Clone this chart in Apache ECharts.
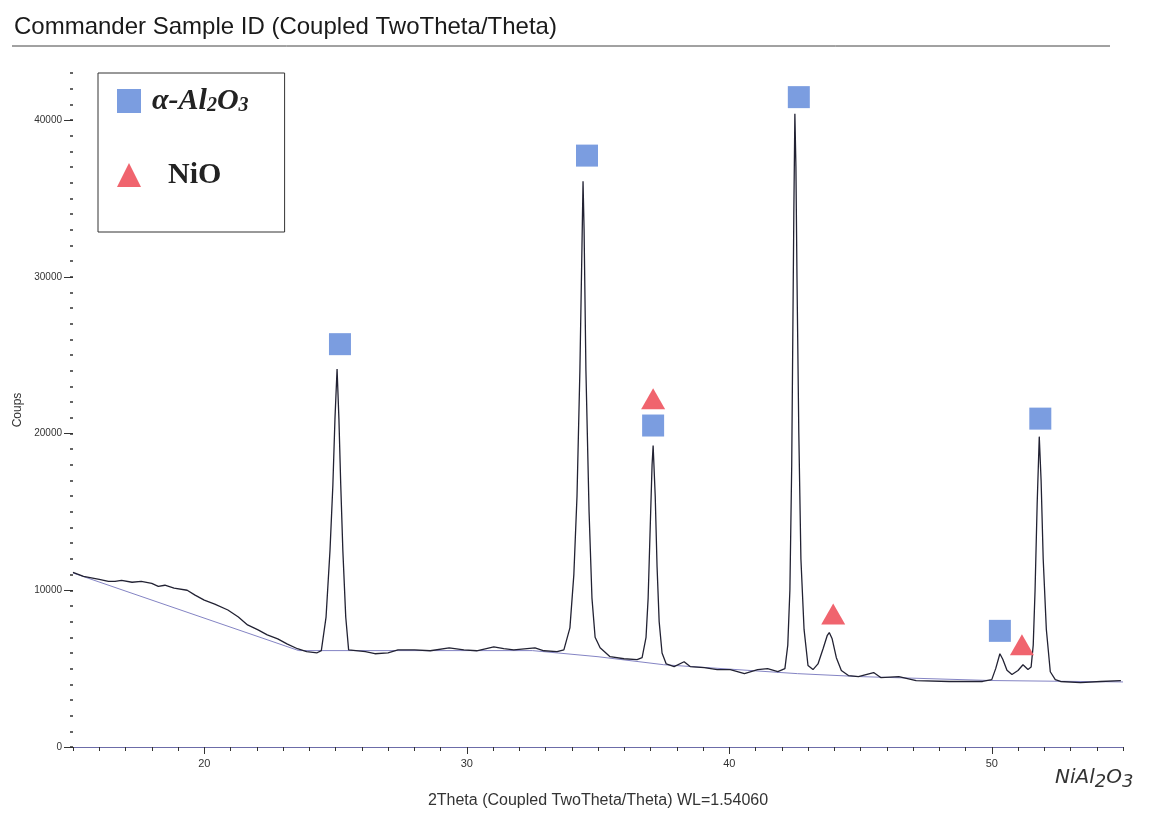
<!DOCTYPE html>
<html>
<head>
<meta charset="utf-8">
<script src="https://cdn.jsdelivr.net/npm/echarts@6/dist/echarts.min.js"></script>
<style>
  html, body { margin: 0; padding: 0; background: #fff; }
  #chart { width: 1158px; height: 814px; }
</style>
</head>
<body>
<div id="chart"></div>
<script>
// diffractogram (2theta, counts)
var twoTheta = [15.0, 15.4, 16.0, 16.35, 16.6, 16.85, 17.25, 17.6, 18.0, 18.25, 18.5, 18.85, 19.35, 19.65,
  20.0, 20.4, 20.9, 21.3, 21.65, 22.05, 22.4, 22.8, 23.15, 23.55, 23.9, 24.3,
  24.46, 24.64, 24.79, 24.9, 24.98, 25.06, 25.13, 25.2, 25.28, 25.39, 25.5,
  26.14, 26.5, 27.0, 27.38, 28.01, 28.61, 29.33, 29.89, 30.38, 31.03, 31.41, 31.79, 32.6, 32.94, 33.44,
  33.7, 33.93, 34.08, 34.2, 34.31, 34.39, 34.43, 34.47, 34.54, 34.66, 34.77, 34.89,
  35.08, 35.46, 35.99, 36.49,
  36.68, 36.83, 36.91, 36.98, 37.06, 37.1, 37.18, 37.25, 37.33, 37.44, 37.6,
  37.9, 38.28, 38.51, 39.05, 39.54, 40.04, 40.58, 41.08, 41.46, 41.85, 42.12,
  42.23, 42.31, 42.38, 42.42, 42.46, 42.5, 42.54, 42.58, 42.65, 42.73, 42.85, 43.0, 43.19,
  43.38, 43.58, 43.73, 43.81, 43.92, 44.08, 44.27, 44.54, 44.92, 45.5, 45.77, 46.46, 47.12, 48.38, 49.65,
  50.0, 50.15, 50.31, 50.42, 50.58, 50.77, 51.0, 51.19, 51.38, 51.5,
  51.58, 51.65, 51.73, 51.81, 51.88, 51.96, 52.08, 52.23, 52.42, 52.62, 53.38, 54.15, 54.92];
var counts = [11140, 10890, 10700, 10570, 10570, 10630, 10510, 10570, 10440, 10250, 10320, 10130, 10000, 9690,
  9370, 9120, 8740, 8290, 7790, 7470, 7150, 6900, 6580, 6270, 6080, 6010,
  6150, 8290, 12530, 16710, 20950, 24120, 20950, 16710, 12530, 8290, 6200,
  6080, 5950, 6010, 6200, 6200, 6140, 6330, 6200, 6140, 6390, 6270, 6200, 6330, 6140, 6080,
  6200, 7600, 11000, 16000, 24000, 32000, 36100, 33000, 24000, 15000, 9500, 7000,
  6330, 5760, 5630, 5570,
  5700, 7000, 9500, 13500, 18000, 19240, 16000, 11500, 8000, 6000, 5300,
  5130, 5440, 5130, 5060, 4940, 4940, 4680, 4940, 5000, 4810, 5000,
  6500, 10000, 18000, 26000, 34000, 40400, 37000, 30000, 20000, 12000, 7500, 5200, 4940,
  5300, 6300, 7100, 7300, 6900, 5700, 4880, 4560, 4490, 4750, 4430, 4490, 4240, 4180, 4180,
  4300, 5000, 5950, 5600, 4900, 4620, 4880, 5250, 4950, 5100,
  6500, 10000, 15500, 19800, 17000, 12000, 7500, 4800, 4300, 4180, 4110, 4180, 4240];

// fitted background line
var baseTheta = [15.0, 23.6, 32.5, 35.0, 37.5, 42.6, 45.0, 50.0, 55.0];
var baseCounts = [11100, 6150, 6150, 5760, 5250, 4680, 4490, 4240, 4150];

// phase markers
var aluminaTheta = [25.17, 34.58, 37.1, 42.65, 50.31, 51.85];
var aluminaMark = [25700, 37730, 20510, 41460, 7410, 20950];
var nioTheta = [37.1, 43.96, 51.15];
var nioMark = [22220, 8480, 6520];

// axis ticks
var xLabels = [20, 30, 40, 50];
var yLabels = [0, 10000, 20000, 30000, 40000];

function zip(a, b) {
  var out = [];
  for (var i = 0; i < a.length; i++) out.push([a[i], b[i]]);
  return out;
}
var xMinor = [], yMinor = [];
for (var t = 15; t <= 55; t++) xMinor.push(t);
for (var c = 0; c <= 43000; c += 1000) yMinor.push(c);

var sans = 'Liberation Sans';
var serif = 'Liberation Serif';
var chart = echarts.init(document.getElementById('chart'));

var option = {
  animation: false,
  backgroundColor: '#fff',
  title: {
    text: 'Commander Sample ID (Coupled TwoTheta/Theta)',
    left: 9, top: 10,
    textStyle: { fontFamily: sans, fontSize: 24, fontWeight: 'normal', color: '#1a1a1a' }
  },
  graphic: [
    { type: 'line', shape: { x1: 12, y1: 46, x2: 1110, y2: 46 }, style: { stroke: '#444', lineWidth: 1 } },
    {
      type: 'text', left: 1055, top: 768,
      style: {
        text: '{m|NiAl}{s|2}{m|O}{s|3}',
        rich: {
          m: { fontFamily: 'DejaVu Sans', fontSize: 20, fontStyle: 'italic', fill: '#333', lineHeight: 26 },
          s: { fontFamily: 'DejaVu Sans', fontSize: 18, fontStyle: 'italic', fill: '#333', verticalAlign: 'bottom', lineHeight: 12 }
        }
      }
    }
  ],
  legend: {
    orient: 'vertical',
    left: 98, top: 73,
    padding: [13, 36, 42, 19],
    itemGap: 44,
    itemWidth: 24, itemHeight: 24,
    borderColor: '#333', borderWidth: 1,
    data: ['α-Al2O3', 'NiO'],
    formatter: function (name) {
      return name === 'NiO' ? '{n|NiO}' : '{f|α-Al}{s|2}{a|O}{s|3}';
    },
    textStyle: {
      rich: {
        f: { fontFamily: serif, fontStyle: 'italic', fontWeight: 'bold', fontSize: 30, color: '#222', lineHeight: 30, padding: [0, 0, 0, 6] },
        a: { fontFamily: serif, fontStyle: 'italic', fontWeight: 'bold', fontSize: 30, color: '#222', lineHeight: 30 },
        s: { fontFamily: serif, fontStyle: 'italic', fontWeight: 'bold', fontSize: 20, color: '#222', lineHeight: 14, verticalAlign: 'bottom' },
        n: { fontFamily: serif, fontWeight: 'bold', fontSize: 30, color: '#222', lineHeight: 30, padding: [0, 0, 0, 22] }
      }
    }
  },
  grid: { left: 73, right: 35, top: 73, bottom: 62 },
  xAxis: [
    {
      type: 'value', min: 15, max: 55,
      name: '2Theta (Coupled TwoTheta/Theta) WL=1.54060',
      nameLocation: 'middle', nameGap: 46,
      nameTextStyle: { fontFamily: sans, fontSize: 16, color: '#333' },
      axisLine: { show: true, lineStyle: { color: '#6c6ca8', width: 1 } },
      axisTick: { show: true, customValues: xLabels, length: 7, lineStyle: { color: '#333' } },
      axisLabel: { customValues: xLabels, fontFamily: sans, fontSize: 11, color: '#333', margin: 11 },
      splitLine: { show: false }
    },
    {
      type: 'value', min: 15, max: 55, position: 'bottom',
      axisLine: { show: false },
      axisTick: { show: true, customValues: xMinor, length: 4, lineStyle: { color: '#333' } },
      axisLabel: { show: false },
      splitLine: { show: false }
    }
  ],
  yAxis: [
    {
      type: 'value', min: 0, max: 43000,
      name: 'Coups',
      nameLocation: 'middle', nameGap: 49,
      nameTextStyle: { fontFamily: sans, fontSize: 12, color: '#333' },
      axisLine: { show: false },
      axisTick: { show: true, customValues: yLabels, length: 9, lineStyle: { color: '#333' } },
      axisLabel: {
        customValues: yLabels, fontFamily: sans, fontSize: 10, color: '#333', margin: 11,
        formatter: function (v) { return String(v); }
      },
      splitLine: { show: false }
    },
    {
      type: 'value', min: 0, max: 43000, position: 'left',
      axisLine: { show: false },
      axisTick: { show: true, customValues: yMinor, length: 3, lineStyle: { color: '#333', width: 1.5 } },
      axisLabel: { show: false },
      splitLine: { show: false }
    }
  ],
  series: [
    {
      name: 'background', type: 'line', data: zip(baseTheta, baseCounts),
      showSymbol: false, lineStyle: { color: '#8484c4', width: 1 }, z: 1
    },
    {
      name: 'pattern', type: 'line', data: zip(twoTheta, counts),
      showSymbol: false, lineStyle: { color: '#222233', width: 1.3 }, z: 2
    },
    {
      name: 'α-Al2O3', type: 'scatter', data: zip(aluminaTheta, aluminaMark),
      symbol: 'rect', symbolSize: 22, itemStyle: { color: '#7b9de0', opacity: 1 }, z: 3
    },
    {
      name: 'NiO', type: 'scatter', data: zip(nioTheta, nioMark),
      symbol: 'triangle', symbolSize: [24, 21], itemStyle: { color: '#f0646e', opacity: 1 }, z: 3
    }
  ]
};

chart.setOption(option);
</script>
</body>
</html>
